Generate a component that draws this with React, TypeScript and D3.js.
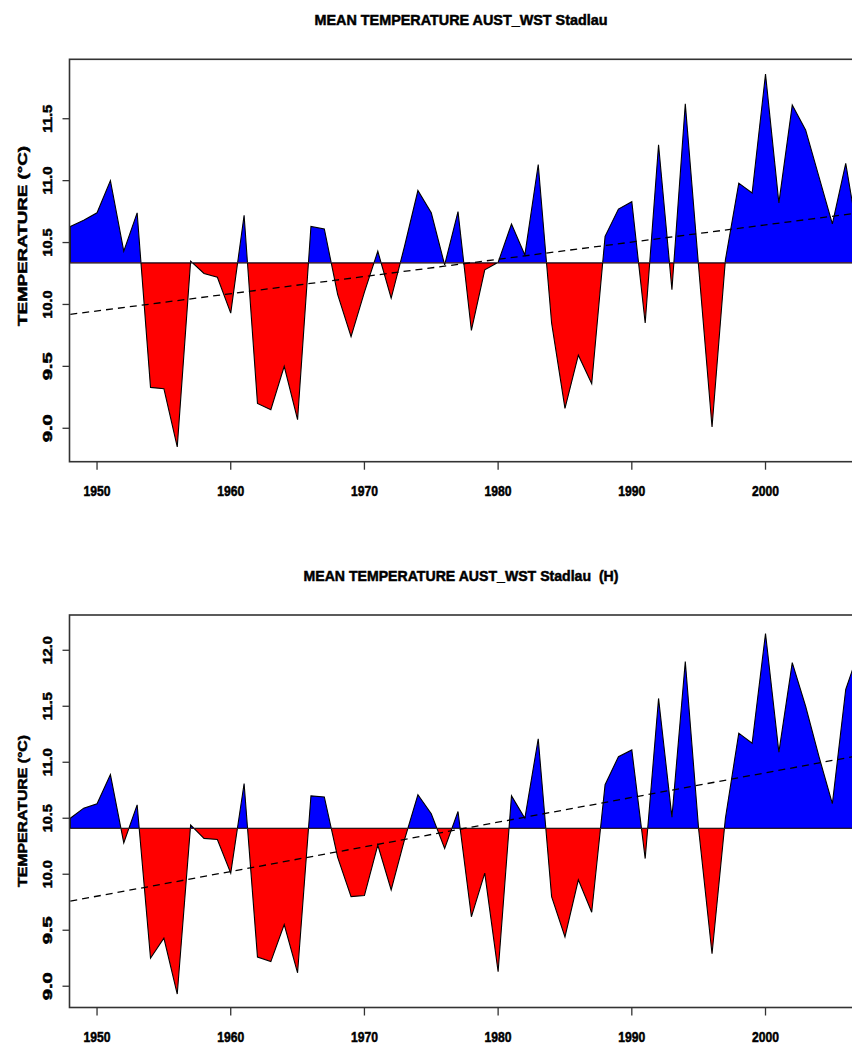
import * as d3 from "d3";

// yearly mean temperatures
const years = d3.range(1948, 2008);
const xTickYears = [1950, 1960, 1970, 1980, 1990, 2000];

const tempTop = [
  10.63, 10.68, 10.74, 11.0, 10.43, 10.74, 9.33, 9.32, 8.85, 10.35,
  10.25, 10.22, 9.93, 10.72, 9.2, 9.15, 9.5, 9.07, 10.63, 10.61,
  10.08, 9.74, 10.1, 10.43, 10.05, 10.47, 10.92, 10.74, 10.32, 10.75,
  9.79, 10.28, 10.34, 10.65, 10.4, 11.13, 9.85, 9.16, 9.59, 9.36,
  10.55, 10.77, 10.83, 9.85, 11.29, 10.12, 11.62, 10.3, 9.01, 10.36,
  10.98, 10.9, 11.86, 10.82, 11.61, 11.41, 11.03, 10.65, 11.14, 10.5,
];

const tempBottom = [
  10.5, 10.59, 10.63, 10.89, 10.28, 10.62, 9.25, 9.43, 8.93, 10.44,
  10.32, 10.31, 10.01, 10.81, 9.26, 9.22, 9.55, 9.12, 10.7, 10.69,
  10.15, 9.8, 9.81, 10.26, 9.86, 10.31, 10.71, 10.54, 10.23, 10.56,
  9.62, 10.01, 9.13, 10.7, 10.5, 11.21, 9.8, 9.44, 9.95, 9.66,
  10.8, 11.05, 11.11, 10.14, 11.57, 10.51, 11.9, 10.4, 9.29, 10.5,
  11.26, 11.17, 12.15, 11.09, 11.89, 11.5, 11.05, 10.63, 11.65, 12.0,
];

const meanTop = 10.336;
const meanBottom = 10.41;

const trendYears = [1948, 2007];
const trendTop = [9.92, 10.74];
const trendBottom = [9.76, 11.06];

const yTicksTop = [9.0, 9.5, 10.0, 10.5, 11.0, 11.5];
const yTicksBottom = [9.0, 9.5, 10.0, 10.5, 11.0, 11.5, 12.0];

const titleTop = "MEAN TEMPERATURE AUST_WST Stadlau";
const titleBottom = "MEAN TEMPERATURE AUST_WST Stadlau  (H)";
const yLabel = "TEMPERATURE (°C)";

const font = "'Liberation Sans', Arial, sans-serif";

// heavy text, like the blurry original
const txt = {
  fontFamily: font,
  fontWeight: "bold" as const,
  stroke: "#000",
  strokeWidth: 0.5,
  lengthAdjust: "spacingAndGlyphs",
};

type PanelProps = {
  id: string;
  title: string;
  titleY: number;
  titleLen: number;
  values: number[];
  mean: number;
  trend: number[];
  yTicks: number[];
  yDomain: [number, number];
  top: number;
  bottom: number;
  ylabCenter: number;
  ylabLen: number;
};

function Panel(p: PanelProps) {
  const left = 69.5;
  const right = 862;
  const x = d3.scaleLinear().domain([1948, 2007]).range([70.3, 859.1]);
  const y = d3.scaleLinear().domain(p.yDomain).range([p.bottom, p.top]);
  const base = y(p.mean);

  const area = d3
    .area<number>()
    .x((_, i) => x(years[i]))
    .y0(base)
    .y1((d) => y(d));

  const trendLine = d3
    .line<number>()
    .x((_, i) => x(trendYears[i]))
    .y((d) => y(d));

  const fmt = d3.format(".1f");

  return (
    <g>
      <defs>
        <clipPath id={`${p.id}-above`}>
          <rect x={left} y={p.top} width={right - left} height={base - p.top} />
        </clipPath>
        <clipPath id={`${p.id}-below`}>
          <rect x={left} y={base} width={right - left} height={p.bottom - base} />
        </clipPath>
        <clipPath id={`${p.id}-plot`}>
          <rect x={left} y={p.top} width={right - left} height={p.bottom - p.top} />
        </clipPath>
      </defs>

      <text
        x={461}
        y={p.titleY}
        textAnchor="middle"
        fontSize={15}
        textLength={p.titleLen}
        style={{ whiteSpace: "pre" }}
        {...txt}
      >
        {p.title}
      </text>

      <path
        d={area(p.values) ?? ""}
        fill="#0000ff"
        stroke="#000"
        strokeWidth={1.1}
        clipPath={`url(#${p.id}-above)`}
      />
      <path
        d={area(p.values) ?? ""}
        fill="#ff0000"
        stroke="#000"
        strokeWidth={1.1}
        clipPath={`url(#${p.id}-below)`}
      />
      <path
        d={trendLine(p.trend) ?? ""}
        fill="none"
        stroke="#000"
        strokeWidth={1.3}
        strokeDasharray="7 5"
        clipPath={`url(#${p.id}-plot)`}
      />

      <rect
        x={left}
        y={p.top}
        width={right - left}
        height={p.bottom - p.top}
        fill="none"
        stroke="#333"
        strokeWidth={1.6}
      />

      {xTickYears.map((yr) => (
        <g key={yr}>
          <line x1={x(yr)} x2={x(yr)} y1={p.bottom} y2={p.bottom + 8} stroke="#333" strokeWidth={1.3} />
          <text
            x={x(yr)}
            y={p.bottom + 34}
            textAnchor="middle"
            fontSize={14}
            textLength={27}
            {...txt}
          >
            {yr}
          </text>
        </g>
      ))}

      {p.yTicks.map((t) => (
        <g key={t}>
          <line x1={left - 7} x2={left} y1={y(t)} y2={y(t)} stroke="#333" strokeWidth={1.3} />
          <text
            transform={`translate(52.3, ${y(t)}) rotate(-90)`}
            textAnchor="middle"
            fontSize={12}
            textLength={28}
            {...txt}
          >
            {fmt(t)}
          </text>
        </g>
      ))}

      <text
        transform={`translate(26.5, ${p.ylabCenter}) rotate(-90)`}
        textAnchor="middle"
        fontSize={13}
        textLength={p.ylabLen}
        {...txt}
      >
        {yLabel}
      </text>
    </g>
  );
}

export default function App() {
  return (
    <svg
      width={852}
      height={1048}
      style={{ position: "absolute", left: 0, top: 0, background: "#fff" }}
    >
      <rect width={852} height={1048} fill="#fff" />
      <Panel
        id="top"
        title={titleTop}
        titleY={25}
        titleLen={293}
        values={tempTop}
        mean={meanTop}
        trend={trendTop}
        yTicks={yTicksTop}
        yDomain={[8.73, 11.98]}
        top={59.3}
        bottom={461.7}
        ylabCenter={236}
        ylabLen={180}
      />
      <Panel
        id="bottom"
        title={titleBottom}
        titleY={581}
        titleLen={315}
        values={tempBottom}
        mean={meanBottom}
        trend={trendBottom}
        yTicks={yTicksBottom}
        yDomain={[8.81, 12.315]}
        top={615}
        bottom={1007.5}
        ylabCenter={811}
        ylabLen={152}
      />
    </svg>
  );
}
